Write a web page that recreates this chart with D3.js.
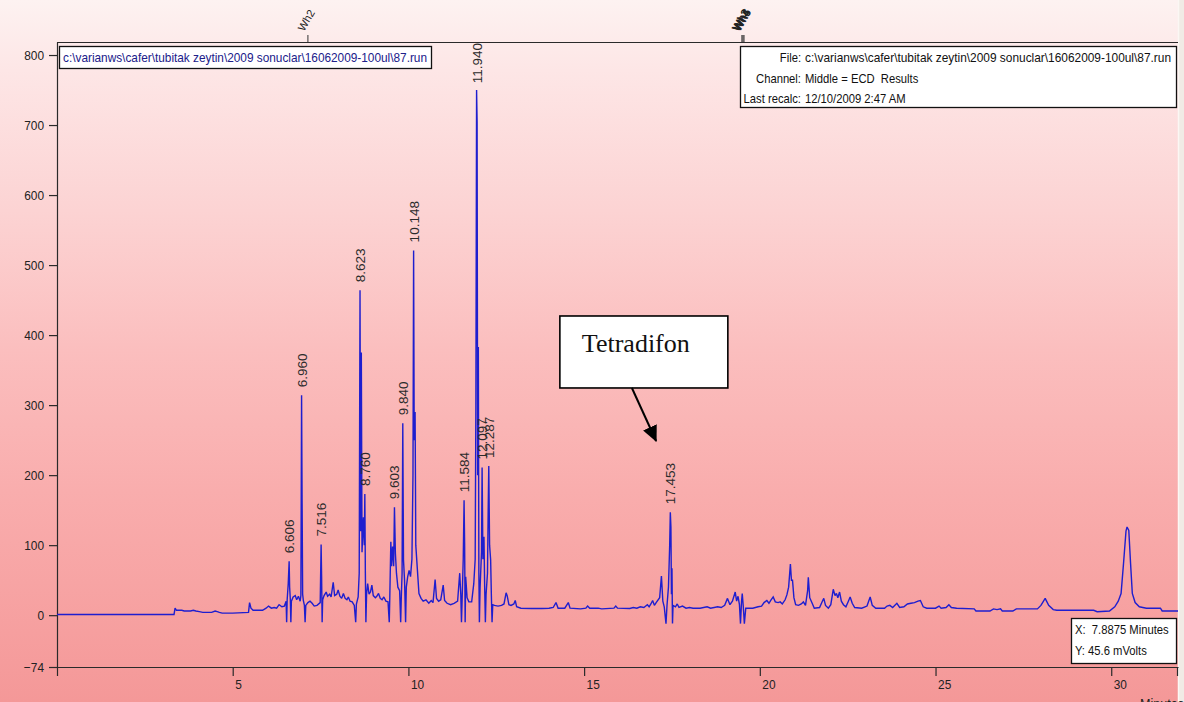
<!DOCTYPE html>
<html>
<head>
<meta charset="utf-8">
<script src="https://cdn.jsdelivr.net/npm/d3@7"></script>
<style>
  html, body { margin: 0; padding: 0; background: #f1ebe5; }
  svg { display: block; }
</style>
</head>
<body>
<svg id="chart" width="1184" height="702"></svg>
<script>
// ECD chromatogram, run 87 (16062009-100ul)

// Detector trace: [retention time (min), signal (mV)]
const trace = [
  [0, 1], [3.33, 1], [3.36, 10], [3.40, 7], [3.55, 7], [3.62, 6], [3.80, 6], [3.88, 7], [3.95, 6],
  [4.05, 5], [4.15, 4], [4.40, 4], [4.50, 6], [4.56, 5], [4.62, 4], [4.70, 3], [5.00, 3], [5.45, 4],
  [5.48, 18], [5.52, 10], [5.58, 7], [5.85, 7], [5.95, 10], [6.02, 13], [6.10, 10], [6.18, 11],
  [6.25, 10], [6.32, 15], [6.40, 12], [6.47, 13], [6.52, 20], [6.535, -10], [6.55, 22], [6.58, 45],
  [6.606, 77], [6.62, 40], [6.64, 22], [6.655, -10], [6.67, 20], [6.72, 26], [6.78, 28], [6.82, 22],
  [6.87, 27], [6.92, 20], [6.94, 28], [6.96, 314], [6.975, 160], [6.99, 30], [7.01, 21], [7.04, 14],
  [7.06, -10], [7.08, 14], [7.14, 18], [7.20, 20], [7.26, 17], [7.32, 13], [7.40, 14], [7.49, 18],
  [7.516, 101], [7.53, 55], [7.545, -10], [7.56, 22], [7.60, 28], [7.66, 33], [7.70, 27], [7.76, 30],
  [7.80, 26], [7.86, 47], [7.90, 28], [7.96, 30], [8.00, 36], [8.05, 27], [8.10, 24], [8.15, 31],
  [8.20, 24], [8.25, 22], [8.29, 26], [8.34, 20], [8.40, 19], [8.46, 14], [8.50, -10], [8.52, 16],
  [8.57, 26], [8.60, 60], [8.623, 464], [8.64, 120], [8.66, 375], [8.68, 90], [8.72, 140],
  [8.745, 100], [8.76, 173], [8.775, 60], [8.79, -10], [8.81, 30], [8.84, 45], [8.88, 30], [8.92, 33],
  [8.96, 43], [9.00, 28], [9.06, 25], [9.10, 27], [9.15, 31], [9.20, 24], [9.25, 22], [9.30, 26],
  [9.36, 20], [9.42, 19], [9.455, -10], [9.47, 25], [9.50, 105], [9.52, 70], [9.55, 98], [9.58, 70],
  [9.603, 154], [9.63, 88], [9.66, 60], [9.70, 40], [9.75, 35], [9.78, -10], [9.80, 30], [9.82, 60],
  [9.84, 274], [9.86, 79], [9.89, 50], [9.92, -10], [9.94, 40], [9.98, 55], [10.02, 64], [10.06, 55],
  [10.10, 80], [10.13, 200], [10.148, 521], [10.165, 250], [10.19, 290], [10.21, 100], [10.25, 69],
  [10.30, 31], [10.36, 24], [10.42, 20], [10.50, 22], [10.58, 17], [10.65, 21], [10.70, 18],
  [10.76, 51], [10.80, 24], [10.86, 20], [10.92, 22], [10.99, 43], [11.03, 21], [11.10, 17],
  [11.20, 15], [11.30, 17], [11.40, 20], [11.46, 60], [11.49, 30], [11.51, -10], [11.53, 25],
  [11.56, 80], [11.584, 164], [11.60, 100], [11.615, -10], [11.63, 55], [11.67, 25], [11.72, 19],
  [11.80, 19], [11.86, 45], [11.90, 80], [11.92, 300], [11.94, 750], [11.955, 705], [11.97, 200],
  [11.99, 383], [12.005, 60], [12.02, -10], [12.04, 40], [12.08, 90], [12.097, 211], [12.12, 80],
  [12.15, 112], [12.17, 40], [12.19, -10], [12.21, 30], [12.25, 60], [12.27, 150], [12.287, 213],
  [12.31, 100], [12.34, 79], [12.36, 30], [12.38, -10], [12.40, 15], [12.45, 14], [12.55, 13],
  [12.65, 14], [12.72, 16], [12.78, 32], [12.81, 28], [12.86, 15], [12.92, 14], [13.00, 16],
  [13.04, 21], [13.08, 12], [13.20, 10], [13.50, 9.5], [13.80, 9.5], [14.00, 10], [14.12, 11],
  [14.20, 18], [14.26, 10], [14.45, 10], [14.55, 18], [14.60, 10], [14.90, 9], [15.05, 10],
  [15.10, 13], [15.16, 10], [15.40, 10], [15.50, 9], [15.85, 10], [15.90, 13], [15.95, 10],
  [16.30, 9.5], [16.40, 11], [16.50, 10], [16.60, 12], [16.70, 11], [16.80, 15], [16.85, 12],
  [16.90, 16], [16.95, 21], [17.00, 14], [17.05, 18], [17.15, 25], [17.20, 56], [17.24, 20],
  [17.28, 12], [17.33, -12], [17.36, 15], [17.40, 40], [17.435, 100], [17.453, 147], [17.47, 126],
  [17.485, 30], [17.50, 67], [17.515, -12], [17.53, 14], [17.60, 12], [17.65, 16], [17.70, 11],
  [17.80, 13], [17.90, 10], [18.00, 11], [18.10, 10], [18.30, 10], [18.50, 12], [18.60, 10],
  [18.80, 12], [18.90, 11], [19.00, 14], [19.08, 24], [19.15, 15], [19.22, 20], [19.30, 33],
  [19.34, 20], [19.38, 27], [19.42, 15], [19.45, -12], [19.48, 20], [19.50, 31], [19.53, 12],
  [19.56, -12], [19.60, 10], [19.80, 10], [19.95, 12], [20.05, 13], [20.12, 18], [20.20, 21],
  [20.26, 17], [20.32, 22], [20.38, 26], [20.44, 19], [20.52, 18], [20.58, 19], [20.64, 16],
  [20.72, 22], [20.77, 29], [20.82, 40], [20.87, 73], [20.90, 50], [20.93, 50], [20.97, 25],
  [21.02, 15], [21.10, 14], [21.18, 16], [21.24, 19], [21.30, 14], [21.36, 35], [21.38, 54],
  [21.42, 25], [21.49, 17], [21.55, 10], [21.70, 11], [21.78, 20], [21.82, 24], [21.87, 14],
  [21.95, 10], [22.02, 15], [22.09, 37], [22.14, 28], [22.18, 31], [22.22, 25], [22.27, 33],
  [22.32, 20], [22.38, 15], [22.45, 12], [22.52, 20], [22.57, 26], [22.63, 17], [22.70, 11],
  [22.90, 10], [23.05, 13], [23.14, 26], [23.20, 14], [23.30, 10], [23.55, 10], [23.62, 13],
  [23.70, 14], [23.78, 11], [23.90, 17], [23.98, 11], [24.10, 12], [24.20, 16], [24.30, 17],
  [24.40, 18], [24.50, 20], [24.57, 21], [24.65, 12], [24.75, 10], [25.00, 10], [25.10, 13],
  [25.16, 10], [25.30, 11], [25.38, 15], [25.45, 11], [25.60, 10], [26.10, 9], [26.15, 6],
  [26.55, 6], [26.65, 9], [26.75, 8], [26.85, 9], [26.90, 6], [27.20, 6], [27.30, 9], [27.90, 9],
  [28.00, 14], [28.12, 24], [28.22, 14], [28.35, 8], [28.45, 7], [29.50, 7], [29.60, 5],
  [29.95, 6], [30.10, 12], [30.20, 20], [30.28, 31], [30.35, 74], [30.42, 120], [30.45, 126],
  [30.50, 121], [30.55, 74], [30.60, 31], [30.68, 18], [30.80, 12], [31.00, 10], [31.40, 10],
  [31.45, 6], [31.90, 6]
];

// Integrated peaks and their retention-time labels
const peakTimes  = [6.606, 6.960, 7.516, 8.623, 8.760, 9.603, 9.840, 10.148, 11.584, 11.940, 12.097, 12.287, 17.453];
const peakLabels = ["6.606", "6.960", "7.516", "8.623", "8.760", "9.603", "9.840", "10.148", "11.584", "11.940", "12.097", "12.287", "17.453"];

// Axis ticks
const xTicks = [0, 5, 10, 15, 20, 25, 30];
const yTicks = [-74, 0, 100, 200, 300, 400, 500, 600, 700, 800];

// Time-window event markers along the top edge
const markerTimes = [7.14, 19.49, 19.52, 19.55];
const markerNames = ["Wh2", "Wh3", "Wh4", "Wh5"];

// Header / cursor read-outs
const runPath = "c:\\varianws\\cafer\\tubitak zeytin\\2009 sonuclar\\16062009-100ul\\87.run";
const headerKeys = ["File:", "Channel:", "Last recalc:"];
const headerValues = [runPath, "Middle = ECD  Results", "12/10/2009 2:47 AM"];
const cursorLines = ["X:  7.8875 Minutes", "Y: 45.6 mVolts"];

// Call-out for the compound of interest
const calloutText = "Tetradifon";
const calloutBox = { t0: 14.31, t1: 19.09, v0: 324.5, v1: 427.3 };
const calloutArrow = { tFrom: 16.36, vFrom: 324.5, tTo: 17.05, vTo: 248.8 };

// ---------------------------------------------------------------
const W = 1184, H = 702;
const frame = { left: 57, right: 1178, top: 42, bottom: 667 };
const sans = "'Liberation Sans', Arial, sans-serif";
const squeeze = 0.9;   // condensed look of the instrument software's UI font

const svg = d3.select("#chart");
const defs = svg.append("defs");

const grad = defs.append("linearGradient").attr("id", "bg")
  .attr("x1", 0).attr("y1", 0).attr("x2", 0).attr("y2", 1);
[[0, "#fdf2f1"], [0.1, "#fde6e6"], [0.3, "#fcd3d3"], [0.5, "#fbbebe"],
 [0.7, "#f9adad"], [0.9, "#f69f9f"], [1, "#f49898"]]
  .forEach(([o, c]) => grad.append("stop").attr("offset", o).attr("stop-color", c));

defs.append("clipPath").attr("id", "plotClip").append("rect")
  .attr("x", frame.left).attr("y", frame.top - 1)
  .attr("width", frame.right - frame.left).attr("height", frame.bottom - frame.top + 40);

defs.append("marker").attr("id", "arrowHead")
  .attr("markerUnits", "userSpaceOnUse")
  .attr("viewBox", "0 -8 16 16").attr("refX", 15).attr("refY", 0)
  .attr("markerWidth", 16).attr("markerHeight", 16).attr("orient", "auto")
  .append("path").attr("d", "M0,-7.5L16,0L0,7.5Z").attr("fill", "#000");

// condensed UI text helper
function uiText(parent, tx, ty, str, opts = {}) {
  const t = parent.append("text")
    .attr("transform", `translate(${tx},${ty}) scale(${opts.sx || squeeze},1)`)
    .attr("font-family", sans).attr("font-size", opts.size || 13)
    .attr("fill", opts.fill || "#111")
    .attr("text-anchor", opts.anchor || "start")
    .style("white-space", "pre")
    .text(str);
  if (opts.length) t.attr("textLength", opts.length / (opts.sx || squeeze)).attr("lengthAdjust", "spacingAndGlyphs");
  return t;
}

// background
svg.append("rect").attr("x", 0).attr("y", 0).attr("width", frame.right).attr("height", H)
  .attr("fill", "url(#bg)");
svg.append("line").attr("x1", frame.right + 0.5).attr("x2", frame.right + 0.5)
  .attr("y1", 0).attr("y2", H).attr("stroke", "#fbf7f4").attr("stroke-width", 1.5);

const x = d3.scaleLinear().domain([0, 31.9]).range([frame.left, frame.right]);
const y = d3.scaleLinear().domain([-74, 818.6]).range([frame.bottom, frame.top]);

// frame top edge
svg.append("line").attr("x1", frame.left).attr("x2", frame.right)
  .attr("y1", frame.top + 0.5).attr("y2", frame.top + 0.5)
  .attr("stroke", "#2a2a2a").attr("stroke-width", 1.2);

// axes
const yAxis = d3.axisLeft(y).tickValues(yTicks).tickSize(8).tickPadding(5).tickSizeOuter(0);
const gy = svg.append("g").attr("transform", `translate(${frame.left},0)`).call(yAxis);
gy.selectAll("text").attr("font-family", sans).attr("font-size", 13.5).attr("fill", "#222")
  .attr("textLength", function () { return this.getComputedTextLength() * 0.88; })
  .attr("lengthAdjust", "spacingAndGlyphs");

const xAxis = d3.axisBottom(x).tickValues(xTicks).tickSize(9).tickSizeOuter(0)
  .tickFormat(d => d === 0 ? "" : d);
const gx = svg.append("g").attr("transform", `translate(0,${frame.bottom})`).call(xAxis);
gx.selectAll("text").attr("font-family", sans).attr("font-size", 13.5).attr("fill", "#222")
  .attr("text-anchor", "start").attr("x", 2).attr("y", 12)
  .attr("textLength", function () { return this.getComputedTextLength() * 0.88 || null; })
  .attr("lengthAdjust", "spacingAndGlyphs");

[gx, gy].forEach(g => {
  g.select(".domain").attr("stroke", "#2a2a2a").attr("stroke-width", 1.2);
  g.selectAll(".tick line").attr("stroke", "#2a2a2a").attr("stroke-width", 1.2);
});
svg.append("line").attr("x1", frame.right - 0.5).attr("x2", frame.right - 0.5)
  .attr("y1", frame.bottom).attr("y2", frame.bottom + 9)
  .attr("stroke", "#2a2a2a").attr("stroke-width", 1.2);

uiText(svg, 1140, 709, "Minutes", { size: 14, fill: "#222" });

// chromatogram trace
const line = d3.line().x(d => x(d[0])).y(d => y(d[1]));
svg.append("path").datum(trace)
  .attr("clip-path", "url(#plotClip)")
  .attr("d", line)
  .attr("fill", "none")
  .attr("stroke", "#1e1ecf")
  .attr("stroke-width", 1.4)
  .attr("stroke-linejoin", "miter")
  .attr("stroke-miterlimit", 2);

// peak retention-time labels
const labelG = svg.append("g").attr("font-family", sans).attr("font-size", 13.5).attr("fill", "#2b2b2b");
peakTimes.forEach((t, i) => {
  const apex = d3.max(trace.filter(d => Math.abs(d[0] - t) <= 0.02), d => d[1]);
  const px = x(t), py = y(apex);
  const txt = labelG.append("text").text(peakLabels[i]);
  const len = txt.node().getComputedTextLength();
  let start = py - 8;
  if (start - len < frame.top + 1) start = frame.top + 1 + len;
  txt.attr("transform", `translate(${px + 5},${start}) rotate(-90)`);
});

// event markers at the top
const markG = svg.append("g");
markerTimes.forEach((t, i) => {
  const mx = x(t);
  markG.append("line").attr("x1", mx).attr("x2", mx).attr("y1", 35).attr("y2", frame.top)
    .attr("stroke", "#333").attr("stroke-width", 1);
  markG.append("text")
    .attr("transform", `translate(${mx - 4},${32}) rotate(-60)`)
    .attr("font-family", sans).attr("font-size", 11)
    .attr("font-weight", i === 0 ? "normal" : "bold")
    .attr("fill", "#222").text(markerNames[i]);
});

// run path box (upper left)
svg.append("rect").attr("x", 59.5).attr("y", 46.5).attr("width", 372).attr("height", 22)
  .attr("fill", "#fff").attr("stroke", "#111").attr("stroke-width", 1.3);
uiText(svg, 63, 62, runPath, { size: 12.5, fill: "#20208a", length: 364 });

// file information box (upper right)
svg.append("rect").attr("x", 740.5).attr("y", 46.5).attr("width", 436).attr("height", 61)
  .attr("fill", "#fff").attr("stroke", "#111").attr("stroke-width", 1.3);
headerKeys.forEach((k, i) => {
  const by = 62 + i * 20.5;
  uiText(svg, 801, by, k, { size: 12.5, anchor: "end" });
  uiText(svg, 805, by, headerValues[i], i === 0 ? { size: 12.5, length: 366 } : { size: 12.5 });
});

// cursor read-out (lower right)
svg.append("rect").attr("x", 1071.5).attr("y", 618.5).attr("width", 105).attr("height", 45)
  .attr("fill", "#fff").attr("stroke", "#111").attr("stroke-width", 1.3);
cursorLines.forEach((s, i) => {
  uiText(svg, 1075, 634 + i * 20.5, s, { size: 12.5 });
});

// Tetradifon call-out
const bx0 = x(calloutBox.t0), bx1 = x(calloutBox.t1);
const by0 = y(calloutBox.v1), by1 = y(calloutBox.v0);
svg.append("rect").attr("x", bx0).attr("y", by0).attr("width", bx1 - bx0).attr("height", by1 - by0)
  .attr("fill", "#fff").attr("stroke", "#000").attr("stroke-width", 1.6);
svg.append("text").attr("x", bx0 + 22).attr("y", by0 + 36)
  .attr("font-family", "'Liberation Serif', 'Times New Roman', serif").attr("font-size", 26)
  .attr("fill", "#111").text(calloutText);
svg.append("line")
  .attr("x1", x(calloutArrow.tFrom)).attr("y1", y(calloutArrow.vFrom))
  .attr("x2", x(calloutArrow.tTo)).attr("y2", y(calloutArrow.vTo))
  .attr("stroke", "#000").attr("stroke-width", 2)
  .attr("marker-end", "url(#arrowHead)");
</script>
</body>
</html>
